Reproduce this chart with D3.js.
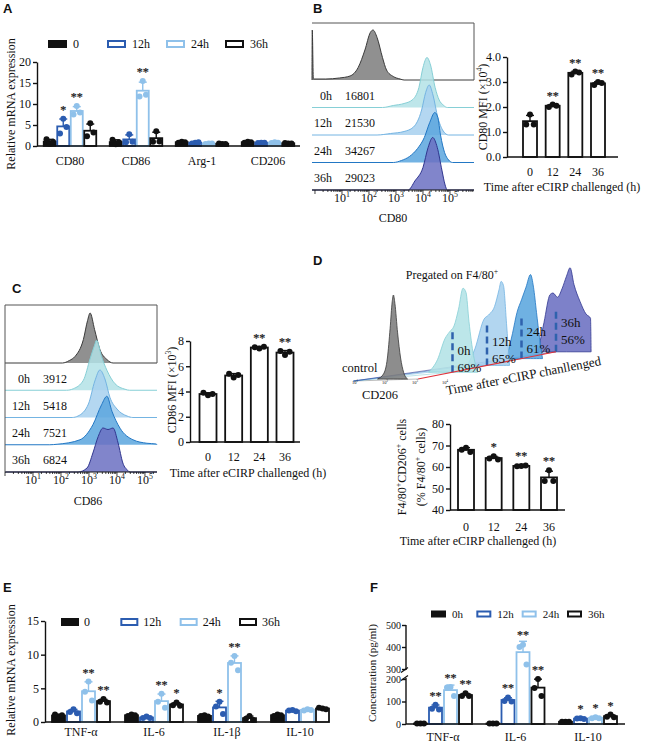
<!DOCTYPE html>
<html>
<head>
<meta charset="utf-8">
<script src="https://cdn.jsdelivr.net/npm/d3@7"></script>
<style>
  body { margin: 0; background: #fff; }
  svg text { font-family: "Liberation Serif", "Times New Roman", serif; fill: #111; }
  svg text.panel { font-family: "Liberation Sans", Arial, sans-serif; font-weight: bold; }
  svg text.star { fill: #222; stroke: #222; stroke-width: 0.25px; }
</style>
</head>
<body>
<div id="main"></div>
<script>
// ---------- data ----------

// A: relative mRNA expression, 3 replicates per bar, one array per time point
var aGenes = ["CD80", "CD86", "Arg-1", "CD206"];
var aLegend = ["0", "12h", "24h", "36h"];
var a0h  = [[0.5, 1.6, 1.0], [0.4, 1.5, 0.9], [1.0, 0.8, 0.9], [1.0, 0.8, 0.9]];
var a12h = [[6.5, 3.0, 4.5], [2.8, 0.9, 1.0], [0.8, 0.6, 0.9], [0.8, 0.7, 0.8]];
var a24h = [[9.5, 7.5, 8.0], [15.5, 11.8, 12.2], [0.6, 0.5, 0.6], [0.9, 0.7, 0.8]];
var a36h = [[5.4, 2.3, 3.2], [3.5, 1.0, 1.1], [0.5, 0.6, 0.5], [0.6, 0.7, 0.6]];
var aStars = [["", "*", "**", ""], ["", "", "**", ""], ["", "", "", ""], ["", "", "", ""]];
var aTicks = [0, 5, 10, 15, 20];

// B: CD80 flow histograms ([log10 intensity, relative count]) and MFI bars
var bRowNames = ["0h", "12h", "24h", "36h"];
var bRowMfi = ["16801", "21530", "34267", "29023"];
var bHistCtrl = [[-0.1, 1.0], [-0.06, 0.02], [0.4, 0.02], [0.9, 0.04], [1.3, 0.08], [1.6, 0.25], [1.85, 0.6], [2.05, 0.95], [2.15, 1.0], [2.3, 0.85], [2.5, 0.45], [2.65, 0.2], [2.9, 0.07], [3.15, 0.02], [3.3, 0]];
var bHist0h  = [[2.5, 0], [2.9, 0.04], [3.3, 0.08], [3.6, 0.15], [3.85, 0.4], [4.0, 0.8], [4.15, 1.0], [4.28, 0.85], [4.45, 0.4], [4.6, 0.15], [4.75, 0.05], [4.9, 0]];
var bHist12h = [[2.3, 0], [2.8, 0.03], [3.3, 0.07], [3.65, 0.16], [3.95, 0.5], [4.1, 0.85], [4.23, 1.0], [4.37, 0.8], [4.55, 0.35], [4.75, 0.08], [4.95, 0]];
var bHist24h = [[2.9, 0], [3.2, 0.04], [3.5, 0.12], [3.8, 0.28], [4.05, 0.5], [4.25, 0.8], [4.44, 1.0], [4.55, 0.9], [4.65, 0.55], [4.8, 0.2], [4.95, 0.05], [5.1, 0]];
var bHist36h = [[3.45, 0], [3.7, 0.18], [4.0, 0.45], [4.19, 0.85], [4.36, 1.05], [4.53, 0.85], [4.7, 0.4], [4.82, 0.1], [4.9, 0]];
var bTimes = ["0", "12", "24", "36"];
var bMfi = [[1.7, 1.3, 1.3], [2.1, 2.0, 2.05], [3.42, 3.3, 3.38], [3.0, 2.88, 2.96]];
var bStars = ["", "**", "**", "**"];
var bTicks = [0, 1, 2, 3, 4];

// C: CD86 flow histograms and MFI bars
var cRowMfi = ["3912", "5418", "7521", "6824"];
var cHistCtrl = [[2.05, 0], [2.3, 0.05], [2.5, 0.13], [2.8, 0.47], [2.95, 0.85], [3.04, 1.0], [3.2, 0.67], [3.39, 0.27], [3.64, 0.07], [3.86, 0]];
var cHist0h  = [[2.2, 0], [2.44, 0.03], [2.8, 0.2], [3.04, 0.63], [3.2, 0.9], [3.27, 1.0], [3.45, 0.67], [3.64, 0.4], [3.93, 0.13], [4.29, 0.02], [4.45, 0]];
var cHist12h = [[2.4, 0], [2.61, 0.03], [2.98, 0.27], [3.21, 0.73], [3.39, 0.95], [3.57, 0.77], [3.75, 0.4], [4.0, 0.17], [4.36, 0.03], [4.57, 0]];
var cHist24h = [[1.6, 0], [1.86, 0.01], [2.68, 0.1], [3.14, 0.4], [3.45, 0.8], [3.64, 0.97], [3.82, 0.67], [4.11, 0.33], [4.57, 0.1], [5.07, 0.03], [5.4, 0.015]];
var cHist36h = [[2.61, 0], [2.93, 0.08], [3.14, 0.38], [3.33, 0.71], [3.5, 0.88], [3.68, 0.85], [3.86, 0.88], [4.04, 0.58], [4.21, 0.18], [4.39, 0.03], [4.46, 0]];
var cMfi = [[3.7, 3.9, 3.8], [5.1, 5.4, 5.3], [7.4, 7.5, 7.55], [6.9, 7.2, 7.15]];
var cStars = ["", "", "**", "**"];
var cTicks = [0, 2, 4, 6, 8];

// D: CD206 layered histograms and % bars
var dLayerNames = ["0h", "12h", "24h", "36h"];
var dLayerPct = ["69%", "65%", "61%", "56%"];
var dGateLog = 3.1;
var dHistCtrl = [[1.75, 0], [1.95, 0.06], [2.08, 0.25], [2.17, 0.6], [2.24, 0.92], [2.28, 1.0], [2.33, 0.9], [2.42, 0.55], [2.52, 0.25], [2.62, 0.08], [2.75, 0]];
var dHist0h  = [[2.3, 0], [2.6, 0.15], [2.85, 0.4], [3.0, 0.48], [3.15, 0.55], [3.3, 0.75], [3.45, 1.0], [3.55, 0.95], [3.65, 0.6], [3.8, 0.2], [3.95, 0]];
var dHist12h = [[2.45, 0], [2.7, 0.2], [3.0, 0.55], [3.15, 0.6], [3.35, 0.7], [3.5, 0.9], [3.57, 1.0], [3.65, 0.95], [3.75, 0.5], [3.85, 0]];
var dHist24h = [[2.6, 0], [2.8, 0.3], [2.95, 0.55], [3.1, 0.7], [3.25, 0.85], [3.4, 1.0], [3.5, 0.85], [3.6, 0.55], [3.7, 0.25], [3.8, 0]];
var dHist36h = [[2.5, 0], [2.7, 0.35], [2.9, 0.68], [3.0, 0.7], [3.15, 0.65], [3.3, 0.75], [3.45, 0.9], [3.57, 1.0], [3.7, 0.8], [3.9, 0.6], [4.1, 0.45], [4.25, 0.4], [4.27, 0]];
var dPct = [[69, 68, 67], [65, 64, 63.5], [60.5, 60.3, 60.7], [58.5, 53.5, 53.5]];
var dStars = ["", "*", "**", "**"];
var dTicks = [40, 50, 60, 70, 80];

// E: relative mRNA expression of cytokines
var eGenes = ["TNF-\u03b1", "IL-6", "IL-1\u03b2", "IL-10"];
var e0h  = [[0.8, 1.1, 1.0], [1.1, 0.9, 1.0], [1.0, 0.9, 0.8], [1.1, 0.9, 1.0]];
var e12h = [[1.9, 1.5, 1.3], [0.8, 0.6, 0.6], [3.0, 2.3, 1.2], [1.8, 1.7, 1.6]];
var e24h = [[6.0, 4.5, 3.2], [4.2, 3.0, 2.1], [9.8, 8.8, 7.7], [1.9, 1.7, 1.8]];
var e36h = [[3.4, 3.0, 2.9], [2.9, 2.5, 2.4], [0.9, 0.5, 0.3], [2.0, 2.1, 1.9]];
var eStars = [["", "", "**", "**"], ["", "", "**", "*"], ["", "*", "**", ""], ["", "", "", ""]];
var eTicks = [0, 5, 10, 15];

// F: cytokine concentration (pg/ml), broken y axis
var fGenes = ["TNF-\u03b1", "IL-6", "IL-10"];
var fLegend = ["0h", "12h", "24h", "36h"];
var f0h  = [[2, 2, 2], [2, 2, 2], [10, 10, 10]];
var f12h = [[86, 68, 64], [118, 102, 100], [26, 24, 22]];
var f24h = [[165, 162, 125], [410, 400, 320], [30, 26, 26]];
var f36h = [[137, 125, 124], [200, 160, 125], [42, 32, 30]];
var fStars = [["", "**", "**", "**"], ["", "**", "**", "**"], ["", "*", "*", "*"]];
var fTicks = [0, 100, 200, 300, 400, 500];

// ---------- styles ----------
var INK = "#111";
var BLUE = "#2b5cb0";
var LBLUE = "#8fc1ea";
var seriesStyle = [
  { fill: INK, stroke: INK, dot: INK },
  { fill: "#fff", stroke: BLUE, dot: BLUE },
  { fill: "#fff", stroke: LBLUE, dot: LBLUE },
  { fill: "#fff", stroke: INK, dot: INK }
];
var plainStyle = { fill: "#fff", stroke: INK, dot: INK };
var histColors = [
  { fill: "#7d7d7d", stroke: "#3a3a3a" },
  { fill: "#b3e2e6", stroke: "#86cfd6" },
  { fill: "#a7d0ee", stroke: "#74b4e2" },
  { fill: "#5ba6de", stroke: "#2277c4" },
  { fill: "#6b70c2", stroke: "#30368f" }
];

// utils
function transform(x, y) {
  return "translate(" + x + "," + y + ")";
}

var svg = d3.select("#main").append("svg").attr("width", 645).attr("height", 744);

function text(g, x, y, s, size, anchor) {
  return g.append("text").attr("x", x).attr("y", y).attr("text-anchor", anchor || "start")
    .style("font-size", size + "px").text(s);
}

// parts starting with ^ are superscripts
function rich(t, parts, size) {
  var up = false;
  parts.forEach(function(p) {
    var sup = p.charAt(0) === "^";
    var ts = t.append("tspan").text(sup ? p.slice(1) : p);
    if (sup) ts.style("font-size", (size * 0.65) + "px");
    if (sup && !up) { ts.attr("dy", -size * 0.4); up = true; }
    else if (!sup && up) { ts.attr("dy", size * 0.4); up = false; }
  });
  return t;
}

function vtext(g, x, y, parts, size) {
  var t = g.append("text").attr("transform", transform(x, y) + " rotate(-90)")
    .attr("text-anchor", "middle").attr("dy", "0.35em").style("font-size", size + "px");
  return rich(t, parts, size);
}

function panel(g, x, y, s) {
  g.append("text").attr("class", "panel").attr("x", x).attr("y", y).style("font-size", "13px").text(s);
}

function yAxis(g, x, y, ticks, size, pad) {
  var ax = g.append("g").attr("transform", transform(x, 0))
    .call(d3.axisLeft(y).tickValues(ticks).tickSize(4).tickSizeOuter(0).tickPadding(pad === undefined ? 2 : pad));
  ax.attr("font-family", null).attr("font-size", null);
  ax.selectAll("path,line").attr("stroke", INK).attr("stroke-width", 1.4);
  ax.selectAll("text").style("font-size", size + "px").attr("fill", INK);
  return ax;
}

var jitter = [0, -3.5, 3.5];

function bars(g, o) {
  var base = o.y(o.y.domain()[0]);
  var n = o.series.length;
  o.series.forEach(function(ser, si) {
    var st = ser.style, off = (si - (n - 1) / 2) * (o.step || 0);
    o.cats.forEach(function(c, ci) {
      var pts = ser.pts[ci], m = d3.mean(pts), sd = d3.deviation(pts);
      var cx = o.x(c) + off, top = o.y(m), errY = o.y(m + sd);
      var bar = g.append("g");
      bar.append("rect").attr("x", cx - o.w / 2).attr("y", top)
        .attr("width", o.w).attr("height", Math.max(0, base - top))
        .attr("fill", st.fill).attr("stroke", st.stroke).attr("stroke-width", 1.8);
      bar.append("line").attr("x1", cx).attr("x2", cx).attr("y1", top).attr("y2", errY)
        .attr("stroke", st.stroke).attr("stroke-width", 1.4);
      bar.append("line").attr("x1", cx - 4).attr("x2", cx + 4).attr("y1", errY).attr("y2", errY)
        .attr("stroke", st.stroke).attr("stroke-width", 1.4);
      bar.selectAll("circle").data(pts).enter().append("circle")
        .attr("cx", function(d, k) { return cx + jitter[k] * o.w / 13; })
        .attr("cy", function(d) { return o.y(d); })
        .attr("r", 3).attr("fill", st.dot);
      var star = o.stars[ci][si];
      if (star) {
        var ty = Math.min(errY, o.y(d3.max(pts)) - 3) - 2;
        text(bar, cx, ty, star, 12, "middle").attr("class", "star");
      }
    });
  });
  g.append("line").attr("x1", o.xr[0]).attr("x2", o.xr[1]).attr("y1", base).attr("y2", base)
    .attr("stroke", INK).attr("stroke-width", 1.5);
  o.cats.forEach(function(c) { text(g, o.x(c), o.labelY, c, 12, "middle"); });
}

function legend(g, names, x0, x1, y, w, h, tOff, size) {
  var lx = d3.scalePoint().domain(names).range([x0, x1]);
  names.forEach(function(nm, i) {
    var st = seriesStyle[i];
    g.append("rect").attr("x", lx(nm)).attr("y", y - h / 2).attr("width", w).attr("height", h)
      .attr("fill", st.fill).attr("stroke", st.stroke).attr("stroke-width", 2);
    text(g, lx(nm) + tOff, y + size * 0.35, nm, size);
  });
}

function flowStack(g, o) {
  var lo = o.x.domain()[0], hi = o.x.domain()[1];
  o.hists.forEach(function(hist, i) {
    var pts = [[lo, 0]].concat(hist).concat([[hi, 0]]);
    var b = o.row(i);
    var area = d3.area().curve(d3.curveMonotoneX)
      .x(function(d) { return o.x(d[0]); }).y0(b).y1(function(d) { return b - o.h(d[1]); });
    var line = d3.line().curve(d3.curveMonotoneX)
      .x(function(d) { return o.x(d[0]); }).y(function(d) { return b - o.h(d[1]); });
    g.append("path").attr("d", area(pts)).attr("fill", histColors[i].fill).attr("fill-opacity", 0.85);
    g.append("path").attr("d", line(pts)).attr("fill", "none")
      .attr("stroke", histColors[i].stroke).attr("stroke-width", 1);
  });
  // log axis with minor ticks
  var ay = o.row(4), ticks = [];
  d3.range(0, 7).forEach(function(d) {
    d3.range(1, 10).forEach(function(k) {
      var v = d + Math.log10(k);
      if (v >= lo && v <= hi) ticks.push([v, k === 1]);
    });
  });
  g.append("line").attr("x1", o.x(lo)).attr("x2", o.x(hi)).attr("y1", ay).attr("y2", ay)
    .attr("stroke", INK).attr("stroke-width", 1.2);
  g.selectAll(null).data(ticks).enter().append("line")
    .attr("x1", function(d) { return o.x(d[0]); }).attr("x2", function(d) { return o.x(d[0]); })
    .attr("y1", ay).attr("y2", function(d) { return ay + (d[1] ? 4 : 2); })
    .attr("stroke", INK).attr("stroke-width", 0.8);
  d3.range(1, 6).forEach(function(d) {
    rich(g.append("text").attr("x", o.x(d)).attr("y", ay + 12).attr("text-anchor", "middle")
      .style("font-size", "12px"), ["10", "^" + d], 12);
  });
  // top box around control
  var top = o.top, r = o.x(hi), l = o.x(lo);
  g.append("line").attr("x1", l).attr("x2", r).attr("y1", top).attr("y2", top).attr("stroke", "#555").attr("stroke-width", 1);
  g.append("line").attr("x1", r).attr("x2", r).attr("y1", top).attr("y2", o.row(0)).attr("stroke", "#555").attr("stroke-width", 1);
  if (o.leftLine) {
    g.append("line").attr("x1", l).attr("x2", l).attr("y1", top).attr("y2", ay).attr("stroke", "#555").attr("stroke-width", 1);
  }
  // row labels
  o.names.forEach(function(nm, k) {
    var yy = (o.row(k) + o.row(k + 1)) / 2 + 6;
    text(g, o.nameX, yy, nm, 12, "end");
    text(g, o.valX, yy, o.vals[k], 12);
  });
}

// ---------- A ----------
var gA = svg.append("g");
panel(gA, 3, 13, "A");
var yA = d3.scaleLinear().domain([0, 20]).range([146, 62]);
var xA = d3.scalePoint().domain(aGenes).range([70, 268]);
legend(gA, aLegend, 49, 226, 44, 17, 6, 24, 12);
yAxis(gA, 37, yA, aTicks, 12);
bars(gA, {
  cats: aGenes, x: xA, y: yA, w: 12, step: 13.5, xr: [37, 300], labelY: 165, stars: aStars,
  series: [a0h, a12h, a24h, a36h].map(function(p, i) { return { pts: p, style: seriesStyle[i] }; })
});
vtext(gA, 11, 104, ["Relative mRNA expression"], 12);

// ---------- B ----------
var gB = svg.append("g");
panel(gB, 313, 13, "B");
var bX = d3.scaleLinear().domain([-0.11, 5.89]).range([312, 474]);
flowStack(gB, {
  x: bX, row: d3.scaleLinear().domain([0, 4]).range([80, 190]),
  h: d3.scaleLinear().domain([0, 1]).range([0, 50]),
  hists: [bHistCtrl, bHist0h, bHist12h, bHist24h, bHist36h],
  top: 23, leftLine: false, names: bRowNames, vals: bRowMfi, nameX: 332, valX: 345
});
text(gB, 393, 222, "CD80", 12, "middle");
var yB = d3.scaleLinear().domain([0, 4]).range([157, 57]);
var xB = d3.scalePoint().domain(bTimes).range([530, 598]);
yAxis(gB, 507, yB, bTicks, 12);
bars(gB, {
  cats: bTimes, x: xB, y: yB, w: 14, xr: [507, 618], labelY: 176,
  stars: bStars.map(function(s) { return [s]; }), series: [{ pts: bMfi, style: plainStyle }]
});
text(gB, 562, 191, "Time after eCIRP challenged (h)", 12, "middle");
vtext(gB, 483, 107, ["CD80 MFI (\u00d710", "^4", ")"], 12);

// ---------- C ----------
var gC = svg.append("g");
panel(gC, 12, 293, "C");
var cX = d3.scaleLinear().domain([0, 5.43]).range([5, 157]);
flowStack(gC, {
  x: cX, row: d3.scaleLinear().domain([0, 4]).range([363, 472]),
  h: d3.scaleLinear().domain([0, 1]).range([0, 50]),
  hists: [cHistCtrl, cHist0h, cHist12h, cHist24h, cHist36h],
  top: 305, leftLine: true, names: bRowNames, vals: cRowMfi, nameX: 30, valX: 43
});
text(gC, 88, 505, "CD86", 12, "middle");
var yC = d3.scaleLinear().domain([0, 8]).range([442, 341]);
var xC = d3.scalePoint().domain(bTimes).range([208, 285]);
yAxis(gC, 190, yC, cTicks, 12);
bars(gC, {
  cats: bTimes, x: xC, y: yC, w: 17, xr: [190, 300], labelY: 461,
  stars: cStars.map(function(s) { return [s]; }), series: [{ pts: cMfi, style: plainStyle }]
});
text(gC, 248, 477, "Time after eCIRP challenged (h)", 12, "middle");
vtext(gC, 172, 390, ["CD86 MFI (\u00d710", "^3", ")"], 12);

// ---------- D ----------
var gD = svg.append("g");
panel(gD, 313, 265, "D");
rich(gD.append("text").attr("x", 452).attr("y", 279).attr("text-anchor", "middle").style("font-size", "12px"),
  ["Pregated on F4/80", "^+"], 12);
var dX = d3.scaleLinear().domain([0, 5]).range([325, 475]);
var dH = d3.scaleLinear().domain([0, 1]).range([0, 84]);
var dLayerX = d3.scaleLinear().domain([0, 4]).range([0, 138]);
var dLayerY = d3.scaleLinear().domain([0, 4]).range([379, 351.8]);
var dHists = [dHistCtrl, dHist0h, dHist12h, dHist24h, dHist36h];
// floor lines fanning back from the front-left corner
d3.range(0, 5).forEach(function(i) {
  gD.append("line").attr("x1", dX(0.95)).attr("y1", dLayerY(0) + 2)
    .attr("x2", dX(dGateLog) + dLayerX(i)).attr("y2", dLayerY(i))
    .attr("stroke", i === 0 ? "#888" : histColors[i].stroke).attr("stroke-opacity", 0.7).attr("stroke-width", 0.8);
});
// back to front
d3.range(4, -1, -1).forEach(function(i) {
  var b = dLayerY(i), sx = dLayerX(i);
  var area = d3.area().curve(d3.curveMonotoneX)
    .x(function(d) { return dX(d[0]) + sx; }).y0(b).y1(function(d) { return b - dH(d[1]); });
  gD.append("path").attr("d", area(dHists[i])).attr("fill", histColors[i].fill).attr("fill-opacity", 0.88)
    .attr("stroke", histColors[i].stroke).attr("stroke-width", 0.8);
  if (i > 0) {
    var gx = dX(dGateLog) + sx;
    gD.append("line").attr("x1", gx).attr("x2", gx).attr("y1", b).attr("y2", b - 44)
      .attr("stroke", "#2f62ad").attr("stroke-width", 2.5).attr("stroke-dasharray", "7,4");
  }
});
gD.append("line").attr("x1", dX(dGateLog)).attr("y1", dLayerY(0))
  .attr("x2", dX(dGateLog) + dLayerX(4)).attr("y2", dLayerY(4))
  .attr("stroke", "#e0323a").attr("stroke-width", 1.1);
var dNameY = d3.scaleLinear().domain([1, 4]).range([355, 327]);
var dPctY = d3.scaleLinear().domain([1, 4]).range([372, 344]);
dLayerNames.forEach(function(nm, k) {
  var gx = dX(dGateLog) + dLayerX(k + 1) + 5;
  text(gD, gx, dNameY(k + 1), nm, 13);
  text(gD, gx, dPctY(k + 1), dLayerPct[k], 13);
});
d3.range(1, 5).forEach(function(d) {
  rich(gD.append("text").attr("x", dX(d)).attr("y", dLayerY(0) + 5).attr("text-anchor", "middle")
    .style("font-size", "4.5px"), ["10", "^" + d], 4.5);
});
text(gD, 342, 372, "control", 12.5);
text(gD, 362, 399, "CD206", 12.5);
gD.append("text").attr("transform", transform(447, 395) + " rotate(-11)")
  .style("font-size", "13px").text("Time after eCIRP chanllenged");

var yD = d3.scaleLinear().domain([40, 80]).range([510, 424]);
var xD = d3.scalePoint().domain(bTimes).range([466, 549]);
yAxis(gD, 450, yD, dTicks, 12);
bars(gD, {
  cats: bTimes, x: xD, y: yD, w: 16, xr: [450, 565], labelY: 531,
  stars: dStars.map(function(s) { return [s]; }), series: [{ pts: dPct, style: plainStyle }]
});
text(gD, 478, 545, "Time after eCIRP challenged (h)", 12, "middle");
vtext(gD, 402, 467, ["F4/80", "^+", "CD206", "^+", " cells"], 12);
vtext(gD, 421, 467, ["(% F4/80", "^+", " cells)"], 12);

// ---------- E ----------
var gE = svg.append("g");
panel(gE, 3, 592, "E");
var yE = d3.scaleLinear().domain([0, 15]).range([722, 621]);
var xE = d3.scalePoint().domain(eGenes).range([81, 300]);
legend(gE, aLegend, 62, 240, 622, 16, 6, 22, 12);
yAxis(gE, 45, yE, eTicks, 12);
bars(gE, {
  cats: eGenes, x: xE, y: yE, w: 13, step: 15, xr: [45, 316], labelY: 736, stars: eStars,
  series: [e0h, e12h, e24h, e36h].map(function(p, i) { return { pts: p, style: seriesStyle[i] }; })
});
vtext(gE, 11, 670, ["Relative mRNA expression"], 12);

// ---------- F ----------
var gF = svg.append("g");
panel(gF, 370, 592, "F");
var yF = d3.scaleLinear().domain([0, 200, 300, 500]).range([724, 679, 669, 625]);
var xF = d3.scalePoint().domain(fGenes).range([443, 588]);
legend(gF, fLegend, 432, 568, 614, 13, 5, 20, 11);
var axF = yAxis(gF, 406, yF, fTicks, 10, 1);
axF.select(".domain").remove();
[[0, 209], [291, 500]].forEach(function(seg) {
  gF.append("line").attr("x1", 406).attr("x2", 406).attr("y1", yF(seg[0])).attr("y2", yF(seg[1]))
    .attr("stroke", INK).attr("stroke-width", 1.4);
});
[209, 291].forEach(function(v) {
  gF.append("line").attr("x1", 401).attr("x2", 408).attr("y1", yF(v) + 2.5).attr("y2", yF(v) - 2.5)
    .attr("stroke", INK).attr("stroke-width", 1.2);
});
bars(gF, {
  cats: fGenes, x: xF, y: yF, w: 13, step: 15, xr: [406, 625], labelY: 741, stars: fStars,
  series: [f0h, f12h, f24h, f36h].map(function(p, i) { return { pts: p, style: seriesStyle[i] }; })
});
vtext(gF, 372, 673, ["Concentration (pg/ml)"], 11);
</script>
</body>
</html>
